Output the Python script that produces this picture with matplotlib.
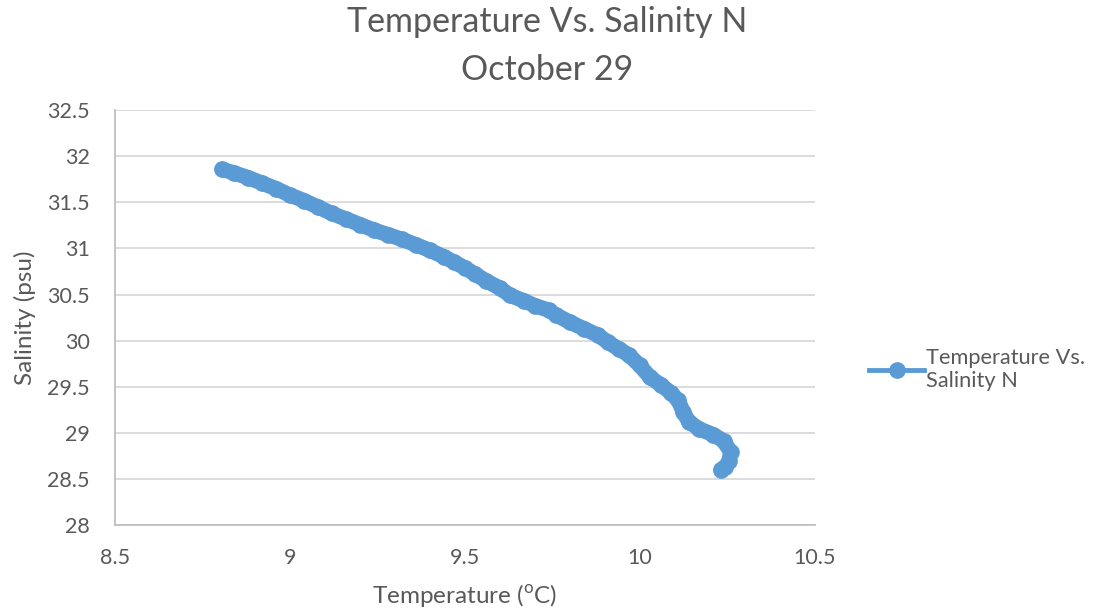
import matplotlib
matplotlib.use("Agg")
import matplotlib.pyplot as plt
from matplotlib.lines import Line2D

plt.rcParams['font.family'] = ['Lato', 'DejaVu Sans']
plt.rcParams['mathtext.fontset'] = 'custom'
plt.rcParams['mathtext.rm'] = 'Lato'

# values
temperature = [8.806, 8.84, 8.88, 8.92, 8.96, 9.00, 9.04, 9.08, 9.12, 9.16,
               9.20, 9.24, 9.28, 9.32, 9.36, 9.40, 9.44, 9.47, 9.50, 9.53,
               9.56, 9.60, 9.63, 9.67, 9.70, 9.74, 9.76, 9.80, 9.84, 9.88,
               9.91, 9.94, 9.97, 10.00, 10.03, 10.06, 10.09, 10.11, 10.125,
               10.14, 10.17, 10.21, 10.24, 10.26, 10.255, 10.245, 10.232]
salinity = [31.86, 31.82, 31.77, 31.71, 31.65, 31.58, 31.52, 31.45, 31.38, 31.32,
            31.26, 31.20, 31.15, 31.10, 31.04, 30.98, 30.91, 30.85, 30.79, 30.72,
            30.65, 30.57, 30.49, 30.43, 30.38, 30.33, 30.28, 30.20, 30.13, 30.06,
            29.98, 29.91, 29.84, 29.73, 29.60, 29.52, 29.43, 29.35, 29.22,
            29.12, 29.04, 28.98, 28.91, 28.79, 28.69, 28.63, 28.60]

blue = '#5B9BD5'
grey = '#595959'

fig = plt.figure(figsize=(10.95, 6.16), dpi=100)
ax = fig.add_axes([0.105, 0.148, 0.639, 0.673])

# thick band + dense markers, like Excel's overlapping points
ax.plot(temperature, salinity, color=blue, linewidth=11, solid_capstyle='round',
        solid_joinstyle='round', marker='o', markersize=11, zorder=3)

ax.set_xlim(8.5, 10.5)
ax.set_ylim(28, 32.5)
ax.set_xticks([8.5, 9, 9.5, 10, 10.5])
ax.set_xticklabels(['8.5', '9', '9.5', '10', '10.5'])
ax.set_yticks([28, 28.5, 29, 29.5, 30, 30.5, 31, 31.5, 32, 32.5])
ax.set_yticklabels(['28', '28.5', '29', '29.5', '30', '30.5', '31', '31.5', '32', '32.5'])
ax.tick_params(length=0, labelsize=15.5, labelcolor=grey)
ax.tick_params(axis='x', pad=17)
ax.tick_params(axis='y', pad=18)
ax.grid(True, axis='y', color='#D9D9D9', linewidth=1.3)
ax.set_axisbelow(True)
for s in ['top', 'right']:
    ax.spines[s].set_visible(False)
for s in ['left', 'bottom']:
    ax.spines[s].set_color('#BFBFBF')
    ax.spines[s].set_linewidth(1.3)

ax.set_xlabel('Temperature ($^{\\mathrm{o}}$C)', fontsize=17.5, color=grey, labelpad=10)
ax.set_ylabel('Salinity (psu)', fontsize=17.5, color=grey, labelpad=8)
fig.text(0.5, 0.964, 'Temperature Vs. Salinity N', fontsize=24.5, color=grey,
         ha='center', va='center')
fig.text(0.5, 0.886, 'October 29', fontsize=24.5, color=grey,
         ha='center', va='center')

handle = Line2D([], [], color=blue, linewidth=3.5, marker='o', markersize=11)
fig.legend([handle], ['Temperature Vs.\nSalinity N'], loc='center left',
           bbox_to_anchor=(0.776, 0.40), frameon=False, fontsize=15.7,
           labelcolor=grey, handlelength=2.5, handletextpad=0.1)

plt.savefig('out.png', dpi=100)
